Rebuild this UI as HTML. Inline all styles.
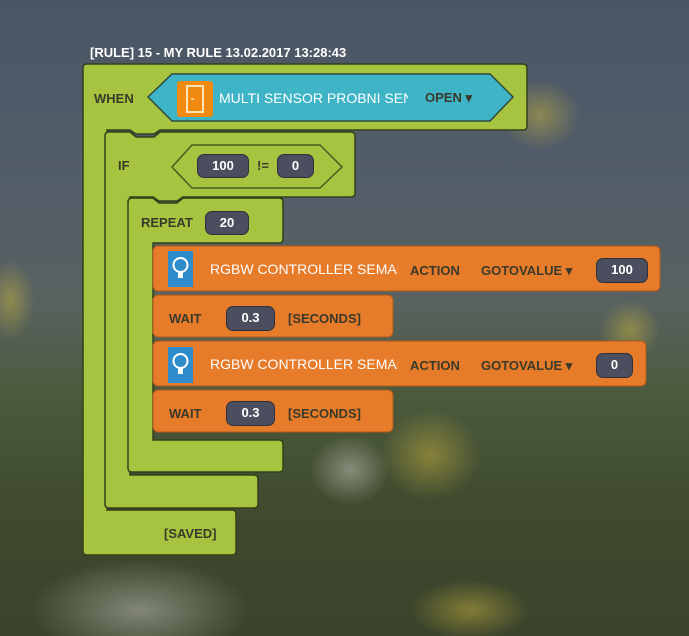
<!DOCTYPE html>
<html><head><meta charset="utf-8"><style>
html,body{margin:0;padding:0}
body{width:689px;height:636px;overflow:hidden;position:relative;font-family:"Liberation Sans",sans-serif;
background:linear-gradient(180deg,#4a5665 0%,#535e6a 30%,#58625f 48%,#4c5a3c 62%,#3f4a2e 80%,#3a432b 100%);}
svg{position:absolute;left:0;top:0}
.t{position:absolute;font-size:13px;font-weight:bold;color:#3a3a2a;white-space:nowrap;line-height:16px}
.w{color:#fff;font-weight:normal;font-size:14px}
.pill{position:absolute;background:#4b4e5f;border:1.5px solid #2e303c;border-radius:7px;color:#fff;font-weight:bold;font-size:13px;text-align:center;box-sizing:border-box}
</style></head><body>
<svg width="689" height="636">
<defs>
<radialGradient id="f1" cx="0.5" cy="0.5" r="0.5"><stop offset="0" stop-color="#c9b440" stop-opacity=".5"/><stop offset="1" stop-color="#c9b440" stop-opacity="0"/></radialGradient>
<radialGradient id="f2" cx="0.5" cy="0.5" r="0.5"><stop offset="0" stop-color="#c8c8c0" stop-opacity=".5"/><stop offset="1" stop-color="#c8c8c0" stop-opacity="0"/></radialGradient>
</defs>
<ellipse cx="540" cy="115" rx="40" ry="35" fill="url(#f1)"/>
<ellipse cx="430" cy="455" rx="50" ry="45" fill="url(#f1)"/>
<ellipse cx="630" cy="330" rx="30" ry="30" fill="url(#f1)"/>
<ellipse cx="470" cy="610" rx="60" ry="30" fill="url(#f1)"/>
<ellipse cx="140" cy="610" rx="110" ry="50" fill="url(#f2)"/>
<ellipse cx="350" cy="470" rx="40" ry="35" fill="url(#f2)"/>
<ellipse cx="10" cy="300" rx="25" ry="40" fill="url(#f1)"/>
<g stroke="#33401a" stroke-width="1.5">
<path d="M87,64 H523 Q527,64 527,68 V126 Q527,130 523,130 H160 L154,134 H136 L130,130 H107 V510 H232 Q236,510 236,514 V551 Q236,555 232,555 H87 Q83,555 83,551 V68 Q83,64 87,64 Z" fill="#a6c43f"/>
<path d="M109,132 H130 L136,137 H154 L160,132 H351 Q355,132 355,136 V193 Q355,197 351,197 H183 L177,201 H159 L153,197 H130 V475 H254 Q258,475 258,479 V504 Q258,508 254,508 H109 Q105,508 105,504 V136 Q105,132 109,132 Z" fill="#a6c43f"/>
<path d="M132,198 H153 L159,203 H177 L183,198 H279 Q283,198 283,202 V239 Q283,243 279,243 H153 V440 H279 Q283,440 283,444 V468 Q283,472 279,472 H132 Q128,472 128,468 V202 Q128,198 132,198 Z" fill="#a6c43f"/>
</g>
<path d="M148,97 L172,74 H490 L513,97 L490,121 H172 Z" fill="#3fb4c7" stroke="#2d4a40" stroke-width="1.5"/>
<path d="M172,167 L192,145 H320 L342,167 L320,188 H192 Z" fill="#a6c43f" stroke="#4a5a22" stroke-width="1.5"/>
<g fill="#e67b2a" stroke="#b0581a" stroke-width="1">
<rect x="153" y="246" width="507" height="45" rx="5"/>
<rect x="153" y="295" width="240" height="42" rx="5"/>
<rect x="153" y="341" width="493" height="45" rx="5"/>
<rect x="153" y="390" width="240" height="42" rx="5"/>
</g>
<rect x="177" y="81" width="36" height="36" rx="3" fill="#f08a10"/>
<rect x="187" y="86" width="16" height="26" fill="none" stroke="#fde3b8" stroke-width="2"/>
<line x1="191" y1="99" x2="194" y2="99" stroke="#fde3b8" stroke-width="1.5"/>
<g>
<rect x="168" y="251" width="25" height="36" fill="#2f8cca"/>
<circle cx="180.5" cy="265" r="7" fill="none" stroke="#fff" stroke-width="2"/>
<rect x="178" y="272" width="5" height="6" fill="#fff"/>
<rect x="168" y="347" width="25" height="36" fill="#2f8cca"/>
<circle cx="180.5" cy="361" r="7" fill="none" stroke="#fff" stroke-width="2"/>
<rect x="178" y="368" width="5" height="6" fill="#fff"/>
</g>
</svg>
<div class="t" style="left:90px;top:45px;color:#fff">[RULE] 15 - MY RULE 13.02.2017 13:28:43</div>
<div class="t" style="left:94px;top:91px">WHEN</div>
<div class="t w" style="left:219px;top:90px;width:189px;overflow:hidden">MULTI SENSOR PROBNI SENSOR</div>
<div class="t" style="left:425px;top:90px">OPEN ▾</div>
<div class="t" style="left:118px;top:158px">IF</div>
<div class="pill" style="left:197px;top:154px;width:52px;height:24px;line-height:21px">100</div>
<div class="t" style="left:257px;top:158px">!=</div>
<div class="pill" style="left:277px;top:154px;width:37px;height:24px;line-height:21px">0</div>
<div class="t" style="left:141px;top:215px">REPEAT</div>
<div class="pill" style="left:205px;top:211px;width:44px;height:24px;line-height:21px">20</div>
<div class="t w" style="left:210px;top:261px;width:188px;overflow:hidden">RGBW CONTROLLER SEMAFOR</div>
<div class="t" style="left:410px;top:263px">ACTION</div>
<div class="t" style="left:481px;top:263px">GOTOVALUE ▾</div>
<div class="pill" style="left:596px;top:258px;width:52px;height:25px;line-height:22px">100</div>
<div class="t" style="left:169px;top:311px">WAIT</div>
<div class="pill" style="left:226px;top:306px;width:49px;height:25px;line-height:21px">0.3</div>
<div class="t" style="left:288px;top:311px">[SECONDS]</div>
<div class="t w" style="left:210px;top:356px;width:188px;overflow:hidden">RGBW CONTROLLER SEMAFOR</div>
<div class="t" style="left:410px;top:358px">ACTION</div>
<div class="t" style="left:481px;top:358px">GOTOVALUE ▾</div>
<div class="pill" style="left:596px;top:353px;width:37px;height:25px;line-height:22px">0</div>
<div class="t" style="left:169px;top:406px">WAIT</div>
<div class="pill" style="left:226px;top:401px;width:49px;height:25px;line-height:21px">0.3</div>
<div class="t" style="left:288px;top:406px">[SECONDS]</div>
<div class="t" style="left:164px;top:526px">[SAVED]</div>
</body></html>
